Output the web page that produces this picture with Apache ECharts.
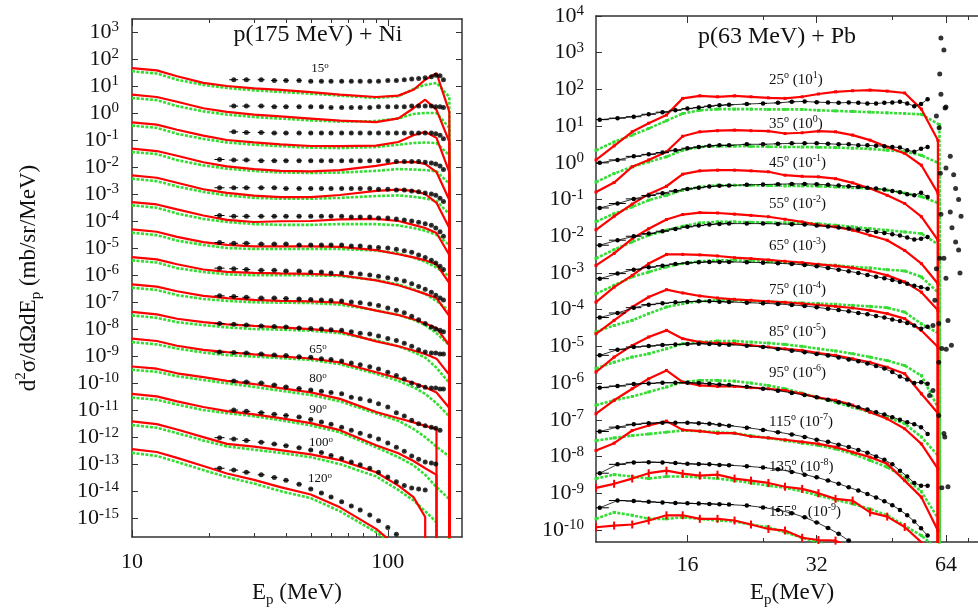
<!DOCTYPE html>
<html><head><meta charset="utf-8">
<script src="https://cdn.jsdelivr.net/npm/echarts@6/dist/echarts.min.js"></script>
<style>html,body{margin:0;padding:0;background:#fff}#c{width:978px;height:611px}</style>
</head><body><div id="c"></div>
<script>
// ================= LEFT PANEL: p(175 MeV) + Ni =================
// each angle i is drawn multiplied by 10^-i (15 deg on top)
const niAngles = ['15','20','25','30','35','40','45','50','55','60','65','80','90','100','120'];
const niTheoryE = [10,12.5,15,19,23.5,30,38,50,65,90,110,126,140,155,174];
const niDataE = [22,25,28,32,36,40,45,50,55,60,66,72,78,85,92,100,108,116,124,132,140,148,154,160,165];
const niDataHalfWidth = 1;
const niXTicks = [10,100];
const niXMinor = [20,30,40,50,60,70,80,90];
const niYTicks = [1e-15,1e-14,1e-13,1e-12,1e-11,1e-10,1e-9,1e-8,1e-7,1e-6,1e-5,1e-4,1e-3,1e-2,1e-1,1,10,100,1000];

const niRed15 = [46,38,23,13,10,8.1,7.2,5.9,4.8,3.9,4.4,7.2,17,30,1.1];
const niRed20 = [48,39,26,15,11,8.7,7.5,6.2,5.2,4.6,6.3,15,31,13,0.85];
const niRed25 = [45,37,24,14.5,10,8.1,6.9,6.0,5.9,6.2,8.4,15,20,12,0.65];
const niRed30 = [48,39,26,15,10.6,8.4,7.2,6.9,7.7,11,15,15.5,13,6.5,0.6];
const niRed35 = [49,40,26,15,11,8.7,7.7,7.7,9.2,13,14.5,13,10,4.7,0.55];
const niRed40 = [50,41,27,16,11,9.2,9.8,10,11.5,12,10,7.2,5.5,3.6,0.55];
const niRed45 = [49,40,26,16.5,13,11.5,11.5,11.5,11,8.4,5.9,4.5,3.5,2.5,0.5];
const niRed50 = [46,38,25,16,13,12,11.5,11,9.8,6.3,4.2,2.8,2.0,1.4,0.3];
const niRed55 = [45,37,25,17,14,12,11,10.5,9.5,4.8,3.3,2.3,1.6,1.1,0.25];
const niRed60 = [43,35,24,18,15,13,11.5,10,8,3.5,2.3,1.6,1.2,0.8,0.2];
const niRed65 = [44,36,24,17,14,11.5,9.8,8.1,5.8,2.5,1.5,1.0,0.7,0.45,0.12];
const niRed80 = [41,34,23,16.5,12,9.2,6.5,4.5,2.6,0.85,0.5,0.35,0.26,0.2];
const niRed90 = [40,32,21,13,9.2,6.9,5.0,3.3,1.8,0.5,0.25,0.13,0.07,0.04];
const niRed100 = [38,30,19,10,5.6,4.4,3.3,2.3,1.4,0.5,0.16,0.06,0.011];
const niRed120 = [36,28,17,8.5,4.5,2.6,1.4,0.75,0.25,0.04,0.008];

const niGreen15 = [35,29,17,11,8.4,6.9,6.0,5.2,4.4,3.6,4.2,7.7,11,13,3.9];
const niGreen20 = [36,30,18,11.5,8.7,7.1,6.2,5.3,4.8,5.0,6.3,9.2,10,10,2.8];
const niGreen25 = [34,28,17,11,8.1,6.7,5.9,5.2,5.0,5.5,6.7,7.7,8.1,7.7,2.7];
const niGreen30 = [36,30,18,11.5,8.7,7.1,6.3,6.0,6.2,7.2,8.4,8.1,7.7,6.9,2.4];
const niGreen35 = [37,30,19,12,8.9,7.2,6.7,6.7,7.2,8.4,8.9,7.9,6.9,5.5,1.8];
const niGreen40 = [38,31,19,12,9.2,7.7,7.2,7.2,7.7,7.7,6.9,5.5,4.4,3.1,1.3];
const niGreen45 = [37,30,19,13,10,9.2,9.2,9.2,9.2,8.1,6.3,4.4,3.1,1.9,0.9];
const niGreen50 = [35,29,18,13,10.6,9.8,9.8,9.8,9.2,6.5,4.5,3.0,2.0,1.1,0.47];
const niGreen55 = [34,28,18,13,11,9.8,9.5,9.2,8.0,5.0,3.3,2.2,1.4,0.7,0.25];
const niGreen60 = [32,26,18,14,11.5,10,9.5,8.7,7.0,3.8,2.3,1.4,0.88,0.37,0.1];
const niGreen65 = [33,27,19,13.5,10.8,9.5,8.4,7.2,5.0,2.2,1.2,0.7,0.4,0.18,0.058];
const niGreen80 = [31,26,18,13,9.8,7.2,5.2,3.6,2.1,0.75,0.4,0.2,0.1,0.044,0.019];
const niGreen90 = [29,24,16,10,7.7,5.9,4.2,2.7,1.5,0.42,0.18,0.09,0.04,0.014,0.005];
const niGreen100 = [28,22,14,7.5,4.5,3.4,2.6,1.8,1.0,0.35,0.11,0.045,0.018,0.007];
const niGreen120 = [26,20,12,6,3.3,1.9,1.0,0.55,0.18,0.03,0.008];

const niData15 = [null,17,17,17,16,16,16,15,15,15,15,15,15,15,15,16,16,17,18,19,20,22,25,24,17];
const niData20 = [null,18,18,18,17,17,17,17,17,16,16,16,16,16,17,17,17,17,18,18,18,18,17,17,16];
const niData25 = [null,20,19,19,18,18,18,18,18,18,18,18,18,18,18,18,18,18,18,18,18,18,17,15,11];
const niData30 = [19,18,18,17,17,17,17,17,17,17,17,17,17,17,17,17,16,16,16,16,15,14,13,11,8];
const niData35 = [17,17,17,17,17,16,16,16,16,16,16,16,16,16,15,15,14,14,13,12,11,10,9,7,5.3];
const niData40 = [16,15,15,15,15,15,15,15,15,15,15,14,14,14,13,13,12,11,10,9,8,7,5.5,4,2.7];
const niData45 = [16,15,15,14,14,14,13,13,13,13,13,12,12,11,10.5,10,9,8,7,5.5,4.5,3.5,2.8,2.1,1.6];
const niData50 = [18,17,16,15,15,14,14,13,13,12,12,12,11,10,9,8,7,6,4.8,3.8,3,2.3,1.8,1.4,1.2];
const niData55 = [17,16,15,14,14,13.5,13,12.5,12,11.5,11,10,9.5,8.5,7.5,6,5,4,3,2.2,1.6,1.2,1,0.9,0.8];
const niData60 = [16,15,14,13,12.5,12,11,10.5,10,9.5,9,8,7,6.5,5.5,4.5,3.8,3,2.3,1.7,1.4,1.3,1.3,1.2,1.2];
const niData65 = [14,13.5,13,12,11,10.5,9.5,9,8,7.5,6.5,5.5,4.8,4,3.3,2.5,1.9,1.4,1.0,0.8,0.7,0.66,0.66,0.6,0.6];
const niData80 = [null,12,11,10,8.5,7.2,6.3,5.5,5.0,4.5,4.0,3.0,2.6,2.2,1.7,1.3,0.8,0.6,0.42,0.31,0.26,0.23,0.21,0.18,null];
const niData90 = [null,10,9,8,7,6.3,5.5,4.5,3.6,3.0,2.3,1.8,1.4,1.1,0.85,0.6,0.42,0.3,0.2,0.15,0.12,0.11,0.1,null,null];
const niData100 = [9.5,8.5,7.5,6.5,5.5,4.8,4.0,3.3,2.7,2.1,1.6,1.2,0.95,0.7,0.5,0.33,0.22,0.16,0.13,0.12,0.11,null,null,null,null];
const niData120 = [7,6,5,4,3.2,2.5,1.8,1.2,0.85,0.6,0.4,0.28,0.2,0.13,0.08,0.045,0.025,null,null,null,null,null,null,null,null];

const niRed = [niRed15,niRed20,niRed25,niRed30,niRed35,niRed40,niRed45,niRed50,niRed55,niRed60,niRed65,niRed80,niRed90,niRed100,niRed120];
const niGreen = [niGreen15,niGreen20,niGreen25,niGreen30,niGreen35,niGreen40,niGreen45,niGreen50,niGreen55,niGreen60,niGreen65,niGreen80,niGreen90,niGreen100,niGreen120];
const niData = [niData15,niData20,niData25,niData30,niData35,niData40,niData45,niData50,niData55,niData60,niData65,niData80,niData90,niData100,niData120];

// ================= RIGHT PANEL: p(63 MeV) + Pb =================
const pbAngles = ['25','35','45','55','65','75','85','95','115','135','155'];
const pbScaleExp = [1,0,-1,-2,-3,-4,-5,-6,-7,-8,-9];
const pbTheoryE = [9.8,10.8,11.9,13.0,14.3,15.6,17.1,18.8,20.6,22.5,24.7,27.0,29.6,32.3,35.4,38.8,42.6,46.7,51.3,56.1,61.3];
const pbGreenE = [9.8,10.8,11.9,13.0,14.3,15.6,17.1,18.8,20.6,22.5,24.7,27.0,29.6,32.3,35.4,38.8,42.6,46.7,51.3,56.1,61.8];
const pbDataE = [10,11,12,13,14,15,16,17,18,19,20,22,24,26,28,30,32,34,36,38,40,42,44,46,48,50,52,54,56,58,60];
const pbDataHalfWidth = 0.5;
const pbXTicks = [16,32,64];
const pbXMinor = [24,48,72];
const pbYTicks = [1e-10,1e-9,1e-8,1e-7,1e-6,1e-5,1e-4,1e-3,1e-2,1e-1,1,10,100,1000,10000];

const pbRed25 = [0.12,0.29,0.70,1.2,2.0,5.7,6.7,6.3,6.7,6.3,5.9,5.7,6.3,7.5,8.6,9.2,9.6,9.0,8.0,2.9,0.41];
const pbRed35 = [0.16,0.29,0.78,1.2,2.0,5.3,7.0,7.5,7.8,7.5,7.3,6.3,6.6,7.3,7.0,5.7,4.15,2.7,1.8,0.86,0.15];
const pbRed45 = [0.15,0.35,0.75,1.4,2.3,4.9,6.05,6.3,6.3,6.05,5.7,4.6,4.3,4.15,3.7,2.85,2.0,1.3,0.78,0.34,0.078];
const pbRed55 = [0.16,0.34,0.86,1.6,2.85,3.9,4.4,4.3,4.0,3.7,3.4,2.9,2.46,2.0,1.8,1.46,1.06,0.78,0.41,0.18,0.051];
const pbRed65 = [0.16,0.41,0.86,1.8,3.2,3.2,3.1,2.9,2.6,2.46,2.26,2.08,1.91,1.72,1.55,1.37,1.13,0.86,0.57,0.30,0.096];
const pbRed75 = [0.22,0.51,1.18,2.21,3.5,2.85,2.36,2.08,1.91,1.8,1.69,1.58,1.46,1.34,1.23,1.11,0.96,0.78,0.57,0.27,0.096];
const pbRed85 = [0.2,0.51,1.06,1.8,2.73,1.62,1.31,1.23,1.18,1.06,0.96,0.86,0.78,0.66,0.57,0.46,0.37,0.27,0.18,0.051,0.015];
const pbRed95 = [0.146,0.34,0.70,1.31,2.21,1.06,0.86,0.81,0.81,0.75,0.70,0.63,0.51,0.40,0.34,0.25,0.16,0.106,0.057,0.022,0.0046];
const pbRed115 = [0.146,0.23,0.51,0.70,0.92,0.53,0.49,0.43,0.43,0.35,0.32,0.285,0.25,0.22,0.18,0.131,0.096,0.063,0.022,0.0078,0.00096];
const pbRed135 = [0.14,0.18,0.25,0.35,0.41,0.34,0.30,0.32,0.25,0.22,0.19,0.15,0.131,0.10,0.07,0.063,0.030,0.023,0.012,0.0046,0.00096];
const pbRed155 = [0.118,0.131,0.14,0.18,0.25,0.25,0.20,0.20,0.18,0.14,0.106,0.096,0.061,0.053,0.051,0.03,0.015];

const pbGreen25 = [0.22,0.37,0.57,0.86,1.4,2.2,2.7,2.9,2.9,2.9,2.85,2.85,2.85,2.7,2.6,2.5,2.4,2.3,2.2,2.1,1.1];
const pbGreen35 = [0.30,0.51,0.78,1.06,1.46,2.2,2.7,2.85,2.85,2.8,2.75,2.7,2.7,2.65,2.6,2.5,2.4,2.2,2.0,1.6,0.96];
const pbGreen45 = [0.25,0.41,0.63,0.96,1.3,1.8,2.2,2.46,2.46,2.46,2.4,2.36,2.36,2.3,2.2,2.1,2.0,1.8,1.5,1.2,0.78];
const pbGreen55 = [0.25,0.43,0.70,1.06,1.46,1.87,2.31,2.46,2.46,2.41,2.36,2.31,2.31,2.2,2.0,1.8,1.62,1.46,1.31,1.18,0.57];
const pbGreen65 = [0.27,0.46,0.78,1.06,1.46,1.8,2.08,2.21,2.21,2.12,2.0,1.91,1.8,1.69,1.62,1.46,1.37,1.23,1.13,0.78,0.27];
const pbGreen75 = [0.25,0.37,0.51,0.78,1.18,1.46,1.69,1.8,1.8,1.72,1.65,1.58,1.52,1.46,1.4,1.31,1.23,1.13,0.86,0.41,0.22];
const pbGreen85 = [0.25,0.37,0.51,0.63,0.86,1.18,1.31,1.4,1.4,1.31,1.23,1.13,1.0,0.86,0.75,0.63,0.51,0.41,0.30,0.16,0.018];
const pbGreen95 = [0.25,0.34,0.43,0.57,0.78,1.06,1.18,1.18,1.13,1.0,0.86,0.70,0.53,0.40,0.30,0.22,0.16,0.118,0.078,0.034,0.0096];
const pbGreen115 = [0.27,0.32,0.37,0.41,0.46,0.51,0.49,0.46,0.43,0.37,0.32,0.27,0.23,0.20,0.16,0.118,0.078,0.051,0.027,0.011,0.0018];
const pbGreen135 = [0.25,0.32,0.285,0.25,0.285,0.285,0.27,0.25,0.22,0.19,0.16,0.14,0.113,0.086,0.066,0.051,0.037,0.025,0.013,0.007,0.0027];
const pbGreen155 = [0.20,0.30,0.25,0.20,0.20,0.22,0.20,0.18,0.17,0.14,0.118,0.086,0.061,0.046,0.03,0.018,0.01];

const pbData25 = [1.5,1.65,1.8,2.1,2.4,2.7,3.0,3.2,3.5,3.7,3.8,4.0,4.15,4.3,4.6,4.7,4.5,4.4,4.3,4.4,4.3,4.15,4.15,4.3,4.4,4.6,4.15,3.5,4.0,5.4,null];
const pbData35 = [1.0,1.2,1.5,1.7,1.9,2.2,2.5,2.7,2.9,3.0,3.0,3.2,3.2,3.3,3.4,3.4,3.4,3.3,3.2,3.2,3.0,3.0,2.9,2.85,2.7,2.6,2.2,2.0,2.4,2.7,null];
const pbData45 = [0.59,0.78,1.04,1.29,1.49,1.72,1.95,2.1,2.26,2.36,2.41,2.51,2.56,2.62,2.67,2.67,2.62,2.51,2.41,2.31,2.21,2.08,2.0,1.87,1.72,1.58,1.4,1.31,1.52,1.18,null];
const pbData55 = [0.57,0.78,1.0,1.18,1.37,1.58,1.8,1.95,2.08,2.17,2.21,2.21,2.21,2.17,2.12,2.08,1.95,1.84,1.72,1.62,1.52,1.4,1.31,1.23,1.13,1.04,0.92,0.81,0.85,0.96,null];
const pbData65 = [0.70,0.96,1.23,1.43,1.58,1.76,1.87,1.95,2.0,2.0,2.0,1.95,1.91,1.84,1.76,1.65,1.52,1.37,1.23,1.11,1.0,0.88,0.79,0.72,0.64,0.57,0.51,0.45,0.41,0.37,null];
const pbData75 = [0.61,0.81,1.13,1.37,1.49,1.58,1.65,1.69,1.69,1.65,1.62,1.55,1.49,1.43,1.34,1.26,1.16,1.06,0.98,0.90,0.81,0.75,0.67,0.61,0.54,0.49,0.43,0.37,0.30,0.34,null];
const pbData85 = [0.57,0.81,0.96,1.02,1.09,1.13,1.16,1.18,1.16,1.13,1.11,1.04,0.96,0.85,0.76,0.69,0.62,0.56,0.50,0.44,0.39,0.34,0.29,0.25,0.20,0.15,0.126,0.10,0.106,0.096,null];
const pbData95 = [0.75,0.83,0.94,0.98,1.02,1.02,1.02,1.0,0.96,0.92,0.88,0.79,0.70,0.62,0.54,0.47,0.41,0.35,0.30,0.26,0.22,0.19,0.16,0.14,0.118,0.10,0.086,0.075,0.063,0.041,null];
const pbData115 = [0.48,0.63,0.75,0.81,0.83,0.83,0.83,0.81,0.78,0.73,0.69,0.61,0.53,0.46,0.40,0.34,0.285,0.25,0.21,0.18,0.15,0.126,0.10,0.081,0.061,0.041,0.0285,0.019,0.016,0.016,null];
const pbData135 = [0.35,0.61,0.69,0.70,0.69,0.66,0.63,0.62,0.61,0.59,0.58,0.54,0.50,0.45,0.38,0.32,0.27,0.22,0.18,0.145,0.118,0.095,0.076,0.06,0.047,0.035,0.025,0.017,0.011,0.007,null];
const pbData155 = [0.40,0.63,0.61,0.58,0.56,0.54,0.53,0.52,0.51,0.50,0.49,0.46,0.41,0.35,0.285,0.22,0.16,0.113,0.078,0.051,null,null,null,null,null,null,null,null,null,null,null];

// elastic / discrete peaks (plotted values, already scaled)
const pbPeakE = [62.3,63.3,61.9,62.3,64.0,63.7,60.8,61.7,65.5,64.0,62.1,66.7,67.4,68.5,65.5,62.3,69.4,66.1,67.4,68.5,63.3,61.9,69.0,64.0,60.8,60.3,61.6,64.7,59.7,62.6,64.1,65.9,61.6,59.7,58.6,61.6,63.3,63.6,62.6,64.7];
const pbPeakV = [2500,1180,263,74,33,31,19,9,1.5,0.72,0.52,0.47,0.2,0.1,0.046,0.04,0.035,0.017,0.007,0.0042,0.0025,0.0025,0.001,0.00072,0.0013,1.8e-4,4.2e-5,5.1e-5,3.7e-5,8.7e-6,8.4e-6,1.07e-5,3.7e-6,6.3e-7,4.6e-7,1.3e-7,4.2e-8,3.4e-8,1.4e-9,1.5e-9];

const pbRed = [pbRed25,pbRed35,pbRed45,pbRed55,pbRed65,pbRed75,pbRed85,pbRed95,pbRed115,pbRed135,pbRed155];
const pbGreen = [pbGreen25,pbGreen35,pbGreen45,pbGreen55,pbGreen65,pbGreen75,pbGreen85,pbGreen95,pbGreen115,pbGreen135,pbGreen155];
const pbData = [pbData25,pbData35,pbData45,pbData55,pbData65,pbData75,pbData85,pbData95,pbData115,pbData135,pbData155];

// ================= rendering =================
const F = 'Liberation Serif';
const RED = '#ff0000', GREEN = '#33dd33', INK = '#111111', FRAME = '#333333';

function pts(E, vals, sc) { const d = []; vals.forEach((v, k) => { if (v != null) d.push([E[k], v * sc]); }); return d; }
function drop(d) { if (d.length) d.push([d[d.length - 1][0], 1e-30]); return d; }
function bars(E, vals, sc, hw) { const d = []; vals.forEach((v, k) => { if (v != null) d.push([E[k], v * sc, hw]); }); return d; }
function fmtPow(v) { const e = Math.round(Math.log10(v)); return '10{s|' + e + '}'; }
const supRich = { s: { fontSize: 15, lineHeight: 10, verticalAlign: 'top', fontFamily: F, color: INK } };

const series = [];
const errRender = function (params, api) {
  const x = api.value(0), y = api.value(1), hw = api.value(2);
  const a = api.coord([x - hw, y]), b = api.coord([x + hw, y]);
  return { type: 'line', shape: { x1: a[0], y1: a[1], x2: b[0], y2: b[1] }, style: { stroke: '#000', lineWidth: 1 } };
};

// left panel
let niErr = [];
niAngles.forEach((a, i) => {
  const sc = Math.pow(10, -i);
  series.push({ type: 'line', xAxisIndex: 0, yAxisIndex: 0, data: drop(pts(niTheoryE, niGreen[i], sc)), showSymbol: false, z: 2,
    lineStyle: { color: GREEN, width: 2.6, type: [3, 1.5] } });
  series.push({ type: 'line', xAxisIndex: 0, yAxisIndex: 0, data: drop(pts(niTheoryE, niRed[i], sc)), showSymbol: false, z: 3,
    lineStyle: { color: RED, width: 2.2 } });
  series.push({ type: 'scatter', xAxisIndex: 0, yAxisIndex: 0, data: pts(niDataE, niData[i], sc), symbol: 'circle', symbolSize: 5, z: 5,
    itemStyle: { color: '#000' } });
  niErr = niErr.concat(bars(niDataE, niData[i], sc, niDataHalfWidth));
});
series.push({ type: 'custom', xAxisIndex: 0, yAxisIndex: 0, data: niErr, renderItem: errRender, clip: true, z: 4, encode: { x: 0, y: 1 } });

// right panel
let pbErr = [];
pbAngles.forEach((a, i) => {
  const sc = Math.pow(10, pbScaleExp[i]);
  series.push({ type: 'line', xAxisIndex: 4, yAxisIndex: 2, data: drop(pts(pbGreenE, pbGreen[i], sc)), showSymbol: true, symbol: 'rect', symbolSize: 3, z: 2,
    itemStyle: { color: GREEN }, lineStyle: { color: GREEN, width: 2.6, type: [3, 1.5] } });
  series.push({ type: 'line', xAxisIndex: 4, yAxisIndex: 2, data: drop(pts(pbTheoryE, pbRed[i], sc)), showSymbol: true, symbol: 'rect',
    symbolSize: i >= 9 ? [2, 8] : 3, z: 3, itemStyle: { color: RED }, lineStyle: { color: RED, width: 2.2 } });
  series.push({ type: 'line', xAxisIndex: 4, yAxisIndex: 2, data: pts(pbDataE, pbData[i], sc), showSymbol: true, symbol: 'circle', symbolSize: 4.5, z: 5,
    itemStyle: { color: '#000' }, lineStyle: { color: '#000', width: 0.8 } });
  pbErr = pbErr.concat(bars(pbDataE, pbData[i], sc, pbDataHalfWidth));
});
series.push({ type: 'custom', xAxisIndex: 4, yAxisIndex: 2, data: pbErr, renderItem: errRender, clip: true, z: 4, encode: { x: 0, y: 1 } });
series.push({ type: 'scatter', xAxisIndex: 4, yAxisIndex: 2, data: pbPeakE.map((e, k) => [e, pbPeakV[k]]), symbol: 'circle', symbolSize: 5, z: 6,
  itemStyle: { color: '#000' }, clip: true });

function xAxisDef(grid, base, min, max, pos, ticks, len, labels, line, margin) {
  return { type: 'log', logBase: base, gridIndex: grid, min: min, max: max, position: pos,
    axisLine: { show: line, lineStyle: { color: FRAME, width: 1.5 } },
    axisTick: { show: true, inside: true, length: len, customValues: ticks, lineStyle: { color: FRAME, width: 1 } },
    axisLabel: labels ? { show: true, customValues: labels, fontFamily: F, fontSize: 22, color: INK, margin: margin } : { show: false },
    splitLine: { show: false }, minorTick: { show: false } };
}
function yAxisDef(grid, min, max, pos, ticks, labels, margin) {
  return { type: 'log', gridIndex: grid, min: min, max: max, position: pos,
    axisLine: { show: true, lineStyle: { color: FRAME, width: 1.5 } },
    axisTick: { show: true, inside: true, length: 6, customValues: ticks, lineStyle: { color: FRAME, width: 1 } },
    axisLabel: labels ? { show: true, customValues: ticks, formatter: fmtPow, fontFamily: F, fontSize: 22, lineHeight: 24, color: INK, margin: margin, rich: supRich } : { show: false },
    splitLine: { show: false } };
}

const niYMin = Math.pow(10, -15.7), niYMax = Math.pow(10, 3.48);
const pbYMin = Math.pow(10, -10.33), pbYMax = 1e4;

const option = {
  animation: false,
  backgroundColor: '#fff',
  grid: [
    { left: 132, top: 19, right: 516, bottom: 74, show: false },
    { left: 596, top: 16, right: -2, bottom: 69, show: false }
  ],
  xAxis: [
    xAxisDef(0, 10, 10, 195, 'bottom', niXTicks, 7, niXTicks, true, 14),
    xAxisDef(0, 10, 10, 195, 'bottom', niXMinor, 4, null, false),
    xAxisDef(0, 10, 10, 195, 'top', niXTicks, 7, null, true),
    xAxisDef(0, 10, 10, 195, 'top', niXMinor, 4, null, false),
    xAxisDef(1, 2, 9.8, 76, 'bottom', pbXTicks, 7, pbXTicks, true, 12),
    xAxisDef(1, 2, 9.8, 76, 'bottom', pbXMinor, 4, null, false),
    xAxisDef(1, 2, 9.8, 76, 'top', pbXTicks, 7, null, true),
    xAxisDef(1, 2, 9.8, 76, 'top', pbXMinor, 4, null, false)
  ],
  yAxis: [
    yAxisDef(0, niYMin, niYMax, 'left', niYTicks, true, 13),
    yAxisDef(0, niYMin, niYMax, 'right', niYTicks, false),
    yAxisDef(1, pbYMin, pbYMax, 'left', pbYTicks, true, 12)
  ],
  series: series,
  graphic: []
};

const G = option.graphic;
function txt(x, y, text, size, align, rot, rich, lh) {
  G.push({ type: 'text', x: x, y: y, rotation: rot || 0, silent: true, z: 100,
    style: { text: text, fontFamily: F, fontSize: size, lineHeight: lh || Math.round(size * 1.15), fill: INK, align: align, verticalAlign: 'middle', rich: rich || {} } });
}
const sup = (fs) => ({ s: { fontSize: fs, lineHeight: Math.round(fs * 0.7), verticalAlign: 'top', fontFamily: F, fill: INK, color: INK },
                      b: { fontSize: fs, lineHeight: Math.round(fs * 0.7), verticalAlign: 'bottom', fontFamily: F, fill: INK, color: INK } });

txt(318, 35, 'p(175 MeV) + Ni', 24, 'center');
txt(777, 37, 'p(63 MeV) + Pb', 24, 'center');
txt(297, 593, 'E{b|p} (MeV)', 23, 'center', 0, sup(15), 30);
txt(792, 593, 'E{b|p}(MeV)', 23, 'center', 0, sup(15), 30);
txt(29, 278, 'd{s|2}σ/dΩdE{b|p} (mb/sr/MeV)', 23, 'center', Math.PI / 2, sup(15), 30);

// angle labels, left panel
const niLabelPos = { '15': [320, 69], '65': [318, 350], '80': [318, 379], '90': [318, 410], '100': [321, 443], '120': [320, 479] };
Object.keys(niLabelPos).forEach(k => txt(niLabelPos[k][0], niLabelPos[k][1], k + '{s|o}', 13, 'center', 0, sup(9), 16));
// angle labels, right panel
const pbLabelY = [80, 124, 163, 204, 246, 290, 332, 373, 422, 467, 512];
pbAngles.forEach((a, i) => {
  const gap = a === '155' ? '   ' : ' ';
  txt(769, pbLabelY[i], a + '{s|o}' + gap + '(10{s|' + pbScaleExp[i] + '})', 15, 'left', 0, sup(10), 19);
});

const chart = echarts.init(document.getElementById('c'), null, { renderer: 'canvas' });
chart.setOption(option);
</script>
</body></html>
